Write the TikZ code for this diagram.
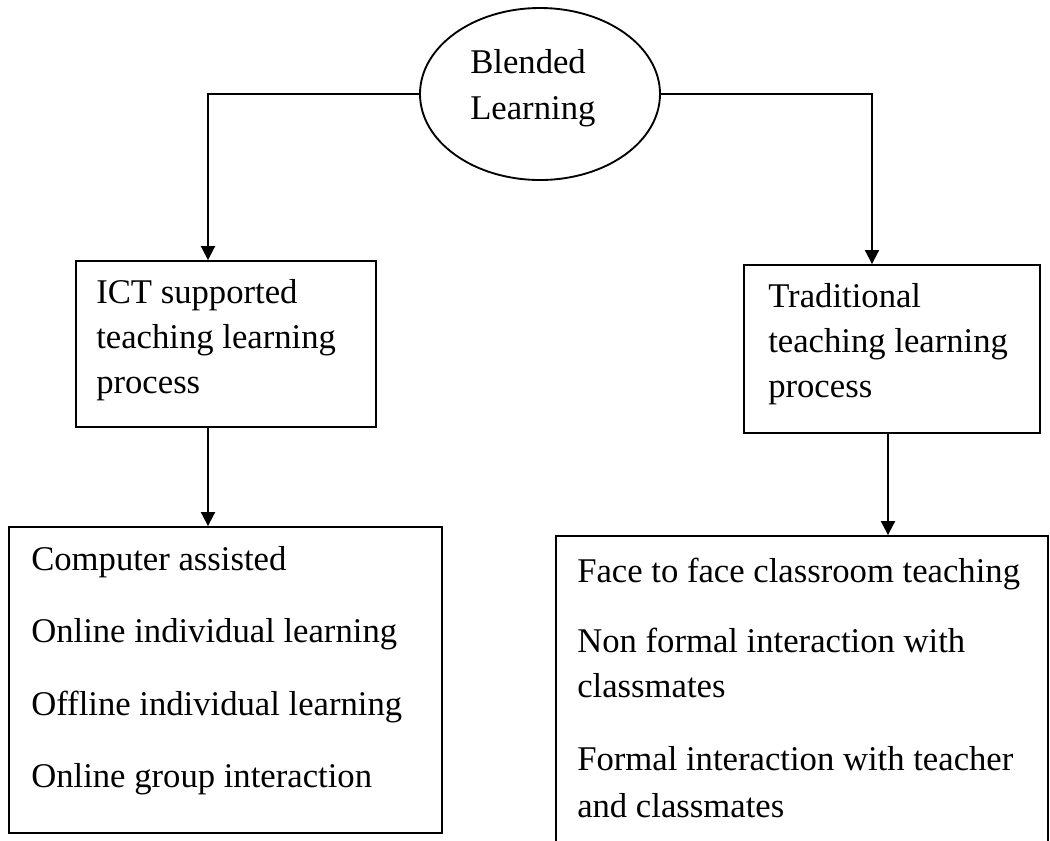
\documentclass[tikz,border=0pt]{standalone}
\usepackage{fontspec}
\setmainfont{Liberation Serif}
\usetikzlibrary{arrows.meta,shapes.geometric}
\begin{document}
\begin{tikzpicture}[x=0.75pt,y=-0.75pt,
  box/.style={draw,line width=1.4pt,rectangle,inner sep=0pt},
  lbl/.style={anchor=base west,inner sep=0pt,font=\fontsize{26pt}{33.75pt}\selectfont},
  arr/.style={line width=1.4pt,-{Triangle[length=10.5pt,width=10.5pt]}}]
\useasboundingbox (0,0) rectangle (1050,840);
\clip (0,0) rectangle (1050,840);
% shapes
\node[draw,ellipse,line width=1.4pt,minimum width=180pt,minimum height=129pt,inner sep=0pt] (bl) at (540,94) {};
\node[box,minimum width=225pt,minimum height=124.5pt] (ict) at (226,344) {};
\node[box,minimum width=222pt,minimum height=126pt] (trad) at (892,349) {};
\node[box,minimum width=324.75pt,minimum height=229.5pt] (comp) at (225.5,680) {};
\node[box,minimum width=369pt,minimum height=273pt] (face) at (802,718) {};
% helper coordinates
\coordinate (c1) at (208,0);
\coordinate (c2) at (872,0);
\coordinate (c3) at (888,0);
% connectors
\draw[arr] (bl.west) -| (c1 |- ict.north);
\draw[arr] (bl.east) -| (c2 |- trad.north);
\draw[arr] (ict.south -| c1) -- (c1 |- comp.north);
\draw[arr] (trad.south -| c3) -- (c3 |- face.north);
% texts
\node[lbl] (b1) at (470,73) {Blended};
\node[lbl] (b2) at (470,119) {Learning};
\node[lbl] (i1) at (96,303) {ICT supported};
\node[lbl] (i2) at (96,348) {teaching learning};
\node[lbl] (i3) at (96,393) {process};
\node[lbl] (r1) at (768,307) {Traditional};
\node[lbl] (r2) at (768,352) {teaching learning};
\node[lbl] (r3) at (768,397) {process};
\node[lbl] (l1) at (31,570) {Computer assisted};
\node[lbl] (l2) at (31,642) {Online individual learning};
\node[lbl] (l3) at (31,715) {Offline individual learning};
\node[lbl] (l4) at (31,787) {Online group interaction};
\node[lbl] (f1) at (577,582) {Face to face classroom teaching};
\node[lbl] (f2) at (577,652) {Non formal interaction with};
\node[lbl] (f3) at (577,697) {classmates};
\node[lbl] (f4) at (577,770) {Formal interaction with teacher};
\node[lbl] (f5) at (577,817) {and classmates};
\end{tikzpicture}
\end{document}
